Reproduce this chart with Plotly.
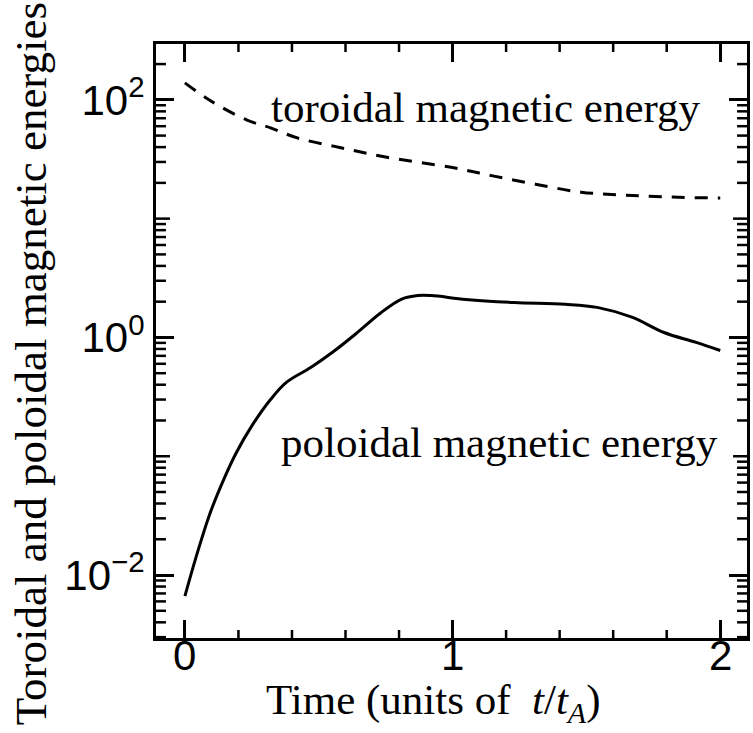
import math
import plotly.graph_objects as go

# Toroidal magnetic energy (dashed)
t_tor = [0.0, 0.09, 0.23, 0.32, 0.42, 0.57, 0.75, 1.0, 1.15, 1.31, 1.48, 1.64, 1.81, 2.0]
e_tor = [139, 100, 67.8, 58.1, 47.8, 40.1, 33.0, 26.9, 22.9, 19.5, 16.7, 15.8, 15.2, 14.9]

# Poloidal magnetic energy (solid)
t_pol = [0.0, 0.045, 0.093, 0.14, 0.19, 0.25, 0.32, 0.38, 0.47, 0.55, 0.64, 0.73, 0.81,
         0.87, 0.92, 1.05, 1.23, 1.42, 1.54, 1.67, 1.79, 1.91, 2.0]
e_pol = [0.00665, 0.0150, 0.0327, 0.0600, 0.105, 0.180, 0.300, 0.420, 0.558, 0.746, 1.08,
         1.60, 2.10, 2.25, 2.25, 2.09, 1.97, 1.90, 1.79, 1.48, 1.10, 0.908, 0.776]

x_ticks = [0, 1, 2]
x_ticktext = ["0", "1", "2"]
x_minor = [0.2, 0.4, 0.6, 0.8, 1.2, 1.4, 1.6, 1.8]
y_ticks = [0.01, 1, 100]
y_ticktext = ["10<sup>\u22122</sup>", "10<sup>0</sup>", "10<sup>2</sup>"]
y_mid = [0.1, 10]
y_minor = [0.002, 0.003, 0.004, 0.005, 0.006, 0.007, 0.008, 0.009,
           0.02, 0.03, 0.04, 0.05, 0.06, 0.07, 0.08, 0.09,
           0.2, 0.3, 0.4, 0.5, 0.6, 0.7, 0.8, 0.9,
           2, 3, 4, 5, 6, 7, 8, 9,
           20, 30, 40, 50, 60, 70, 80, 90,
           200, 300]

SERIF = "Liberation Serif"
SANS = "Liberation Sans"
XR = [-0.108, 2.1]
YR = [-2.53, 2.47]

y_minor = [v for v in y_minor if YR[0] < math.log10(v) < YR[1]]


def ypaper(v):
    return (math.log10(v) - YR[0]) / (YR[1] - YR[0])


def xpaper(v):
    return (v - XR[0]) / (XR[1] - XR[0])


fig = go.Figure()
fig.add_trace(go.Scatter(x=t_tor, y=e_tor, mode="lines",
                         line=dict(color="black", width=3, dash="13px,10px", shape="spline"),
                         showlegend=False))
fig.add_trace(go.Scatter(x=t_pol, y=e_pol, mode="lines",
                         line=dict(color="black", width=3, shape="spline"),
                         showlegend=False))

fig.update_layout(
    width=753, height=733,
    margin=dict(l=156, r=3, t=44, b=95),
    paper_bgcolor="white", plot_bgcolor="white",
    font=dict(family=SANS, size=42, color="black"),
    xaxis=dict(
        range=XR, tickvals=x_ticks, showticklabels=False,
        ticks="inside", ticklen=18, tickwidth=2.5, tickcolor="black",
        showline=True, linewidth=3, linecolor="black", mirror="ticks",
        showgrid=False, zeroline=False,
    ),
    yaxis=dict(
        type="log", range=YR, tickvals=y_ticks, ticktext=y_ticktext,
        ticks="inside", ticklen=18, tickwidth=2.5, tickcolor="black",
        showline=True, linewidth=3, linecolor="black", mirror="ticks",
        showgrid=False, zeroline=False,
        tickfont=dict(family=SANS, size=42),
    ),
)

# plot box in pixels: x 156..750, y 44..638
PLOT_W, PLOT_H = 594, 594

shapes = []
tick_line = dict(color="black", width=2.5)
for v in x_minor:
    xp = xpaper(v)
    shapes.append(dict(type="line", xref="paper", yref="paper", layer="above",
                       x0=xp, x1=xp, y0=0, y1=8 / PLOT_H, line=tick_line))
    shapes.append(dict(type="line", xref="paper", yref="paper", layer="above",
                       x0=xp, x1=xp, y0=1, y1=1 - 8 / PLOT_H, line=tick_line))
for vals, L in ((y_minor, 10), (y_mid, 14)):
    for v in vals:
        yp = ypaper(v)
        shapes.append(dict(type="line", xref="paper", yref="paper", layer="above",
                           x0=0, x1=L / PLOT_W, y0=yp, y1=yp, line=tick_line))
        shapes.append(dict(type="line", xref="paper", yref="paper", layer="above",
                           x0=1, x1=1 - L / PLOT_W, y0=yp, y1=yp, line=tick_line))
fig.update_layout(shapes=shapes)

# x tick labels
for v, txt in zip(x_ticks, x_ticktext):
    fig.add_annotation(x=v, y=0, xref="x", yref="paper", text=txt, showarrow=False,
                       xanchor="center", yanchor="top", yshift=8,
                       font=dict(family=SANS, size=42, color="black"))

fig.add_annotation(x=0.316, y=1.932, xref="x", yref="y", text="toroidal magnetic energy",
                   showarrow=False, xanchor="left", yanchor="middle",
                   font=dict(family=SERIF, size=43, color="black"))
fig.add_annotation(x=0.353, y=-0.886, xref="x", yref="y", text="poloidal magnetic energy",
                   showarrow=False, xanchor="left", yanchor="middle",
                   font=dict(family=SERIF, size=43, color="black"))
fig.add_annotation(x=-0.212, y=0.462, xref="paper", yref="paper",
                   text="Toroidal and poloidal magnetic energies", textangle=-90,
                   showarrow=False, xanchor="center", yanchor="middle",
                   font=dict(family=SERIF, size=45, color="black"))
fig.add_annotation(x=0.47, y=-0.11, xref="paper", yref="paper",
                   text="Time (units of  <i>t</i>/<i>t<sub>A</sub></i>)",
                   showarrow=False, xanchor="center", yanchor="middle",
                   font=dict(family=SERIF, size=43, color="black"))

fig.write_html("out.html")
